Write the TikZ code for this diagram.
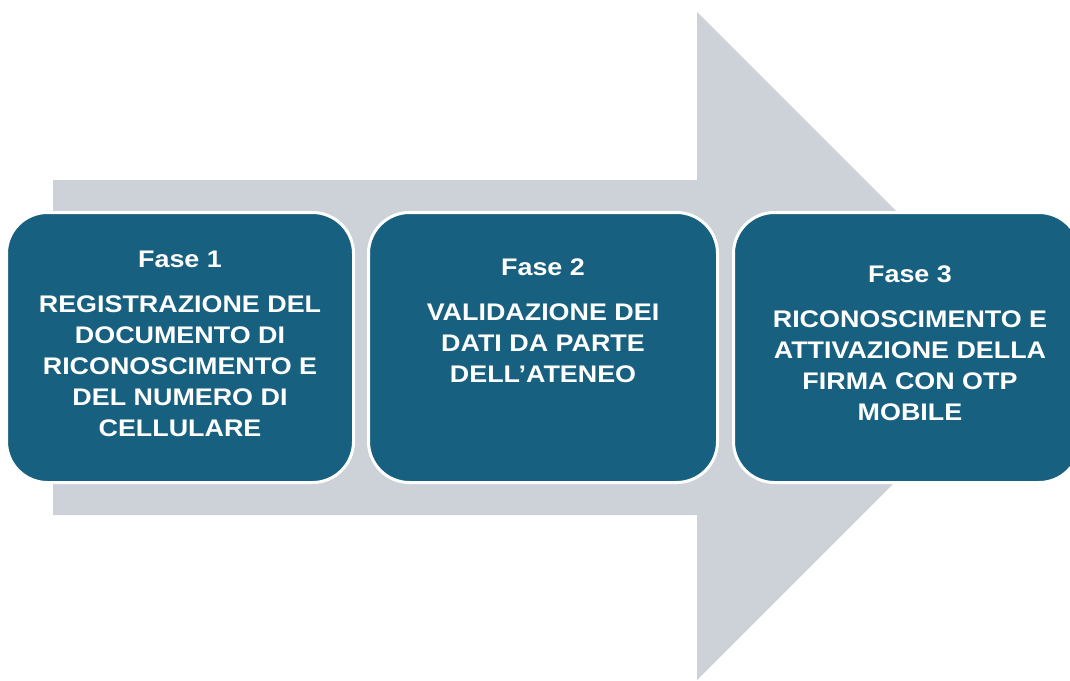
\documentclass[tikz,border=0pt]{standalone}
\usepackage{fontspec}
\setmainfont[FakeStretch=1.12]{Liberation Sans}
\definecolor{arrowgray}{HTML}{CDD2D9}
\definecolor{boxblue}{HTML}{17607F}
\begin{document}
\begin{tikzpicture}[x=1pt,y=-1pt,
  phasebox/.style={fill=boxblue,draw=white,line width=3pt,rounded corners=41pt},
  phasetext/.style={anchor=north,inner sep=0pt,align=center,text=white,
    font=\fontsize{24}{31}\selectfont\bfseries}]
\useasboundingbox (0,0) rectangle (1070,680);
\clip (0,0) rectangle (1070,680);
% big background arrow
\fill[arrowgray] (53,180) -- (697,180) -- (697,12) -- (1031,346) -- (697,680) -- (697,515) -- (53,515) -- cycle;
% boxes
\draw[phasebox] (6.5,212.5) rectangle (353.5,482.5);
\draw[phasebox] (368.5,212.5) rectangle (717.5,482.5);
\draw[phasebox] (733.5,212.5) rectangle (1080,482.5);
% texts
\node[phasetext] (t1) at (180,251) {Fase 1\\[14pt]REGISTRAZIONE DEL\\DOCUMENTO DI\\RICONOSCIMENTO E\\DEL NUMERO DI\\CELLULARE};
\node[phasetext] (t2) at (543,259) {Fase 2\\[14pt]VALIDAZIONE DEI\\DATI DA PARTE\\DELL’ATENEO};
\node[phasetext] (t3) at (910,266) {Fase 3\\[14pt]RICONOSCIMENTO E\\ATTIVAZIONE DELLA\\FIRMA CON OTP\\MOBILE};
\end{tikzpicture}
\end{document}
